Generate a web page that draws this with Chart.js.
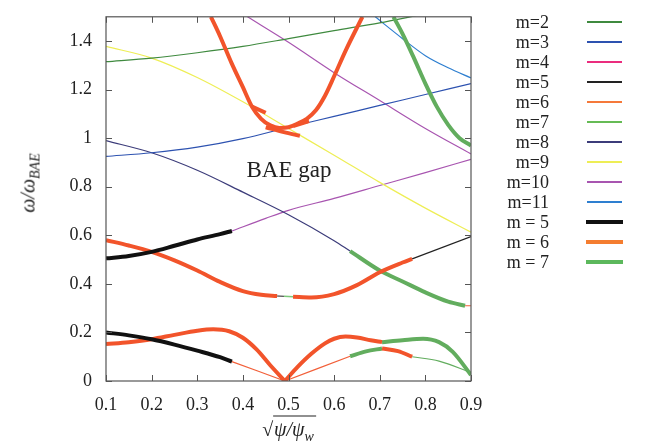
<!DOCTYPE html>
<html>
<head>
<meta charset="utf-8">
<script src="https://cdn.jsdelivr.net/npm/chart.js@4.4.1/dist/chart.umd.min.js"></script>
<style>
  body { margin: 0; background: #fff; }
  #wrap { position: relative; width: 651px; height: 444px; font-family: "Liberation Serif", "DejaVu Serif", serif; color: #222; }
  #c { position: absolute; left: 0; top: 0; }
  .lbl { position: absolute; font-size: 18px; line-height: 20px; text-align: right; white-space: nowrap; }
  .key { position: absolute; }
  #ytitle { position: absolute; left: 30px; top: 183px; transform: translate(-50%, -50%) rotate(-90deg); font-size: 20px; font-style: italic; white-space: nowrap; }
  #ytitle sub, #xtitle sub { font-size: 14px; }
  #xtitle { position: absolute; left: 289px; top: 431px; transform: translate(-50%, -50%); font-size: 20px; font-style: italic; white-space: nowrap; }
  #xtitle .rad { border-top: 1px solid #222; padding: 1px 2px 0 1px; }
  #gap { position: absolute; left: 289px; top: 170px; transform: translate(-50%, -50%); font-size: 23px; white-space: nowrap; }
</style>
</head>
<body>
<div id="wrap">
  <canvas id="c" width="651" height="444"></canvas>
  <div id="ytitle">ω/ω<sub>BAE</sub></div>
  <div id="xtitle"><span style="font-style:normal">√</span><span class="rad">ψ/ψ<sub>w</sub></span></div>
  <div id="gap">BAE gap</div>
  <div id="legend"></div>
</div>
<script>
// axes
const xTicks = [0.1, 0.2, 0.3, 0.4, 0.5, 0.6, 0.7, 0.8, 0.9];
const xTickLabels = ['0.1', '0.2', '0.3', '0.4', '0.5', '0.6', '0.7', '0.8', '0.9'];
const yTicks = [0, 0.2, 0.4, 0.6, 0.8, 1.0, 1.2, 1.4];
const yTickLabels = ['0', '0.2', '0.4', '0.6', '0.8', '1', '1.2', '1.4'];

// legend
const legendLabels = ['m=2', 'm=3', 'm=4', 'm=5', 'm=6', 'm=7', 'm=8', 'm=9', 'm=10', 'm=11', 'm = 5', 'm = 6', 'm = 7'];
const legendColors = ['#3f8a3f', '#2d52b0', '#ea2d7e', '#222222', '#f5793a', '#66bb55', '#3c3c7a', '#eeee55', '#a855b0', '#2e7fd0', '#111111', '#f47d30', '#5cb85c'];

// thin continuum branches (x = sqrt(psi/psi_w), y = omega/omega_BAE)
const m2 = [[0.1, 1.315], [0.2, 1.33], [0.3, 1.352], [0.4, 1.378], [0.5, 1.41], [0.6, 1.443], [0.7, 1.475], [0.78, 1.505]];
const m3 = [[0.1, 0.925], [0.2, 0.94], [0.3, 0.963], [0.4, 0.998], [0.5, 1.045], [0.6, 1.09], [0.7, 1.135], [0.8, 1.18], [0.9, 1.225]];
const m5a = [[0.475, 0.35], [0.49, 0.349]];
const m5b = [[0.771, 0.503], [0.9, 0.595]];
const m6a = [[0.376, 0.08], [0.492, 0]];
const m6b = [[0.492, 0], [0.635, 0.102]];
const m6c = [[0.887, 0.31], [0.9, 0.31]];
const m7a = [[0.49, 0.349], [0.51, 0.347]];
const m7b = [[0.771, 0.1], [0.83, 0.082], [0.9, 0.035]];
const m8 = [[0.1, 0.99], [0.2, 0.94], [0.3, 0.868], [0.4, 0.778], [0.5, 0.685], [0.6, 0.578], [0.635, 0.535]];
const m9 = [[0.1, 1.378], [0.2, 1.33], [0.3, 1.25], [0.4, 1.15], [0.5, 1.04], [0.6, 0.93], [0.7, 0.818], [0.8, 0.712], [0.9, 0.613]];
const m10a = [[0.41, 1.5], [0.5, 1.395], [0.6, 1.27], [0.7, 1.155], [0.8, 1.04], [0.9, 0.935]];
const m10b = [[0.376, 0.618], [0.45, 0.67], [0.5, 0.703], [0.6, 0.752], [0.7, 0.805], [0.8, 0.858], [0.9, 0.913]];
const m11 = [[0.69, 1.5], [0.75, 1.41], [0.8, 1.34], [0.85, 1.29], [0.9, 1.248]];

// thick dominant-harmonic branches
const t5a = [[0.1, 0.505], [0.15, 0.515], [0.2, 0.532], [0.25, 0.557], [0.3, 0.583], [0.35, 0.605], [0.376, 0.618]];
const t5b = [[0.1, 0.2], [0.15, 0.188], [0.2, 0.172], [0.25, 0.15], [0.3, 0.125], [0.35, 0.098], [0.376, 0.08]];
const t6a = [[0.1, 0.58], [0.15, 0.558], [0.2, 0.532], [0.25, 0.497], [0.3, 0.455], [0.35, 0.408], [0.4, 0.37], [0.44, 0.355], [0.475, 0.35]];
const t6b = [[0.51, 0.347], [0.55, 0.344], [0.6, 0.358], [0.65, 0.395], [0.7, 0.448], [0.75, 0.488], [0.771, 0.503]];
const t6c = [[0.1, 0.152], [0.15, 0.16], [0.2, 0.172], [0.25, 0.19], [0.3, 0.207], [0.335, 0.213], [0.37, 0.205], [0.4, 0.178], [0.43, 0.13], [0.46, 0.065], [0.492, 0]];
const t6d = [[0.492, 0], [0.52, 0.058], [0.55, 0.112], [0.58, 0.155], [0.6, 0.174], [0.625, 0.183], [0.65, 0.179], [0.68, 0.168], [0.705, 0.16]];
const t6e = [[0.705, 0.134], [0.74, 0.123], [0.771, 0.1]];
const t6f = [[0.33, 1.5], [0.35, 1.42], [0.375, 1.31], [0.4, 1.21], [0.42, 1.13], [0.44, 1.08], [0.46, 1.053], [0.48, 1.042], [0.5, 1.045], [0.52, 1.06], [0.54, 1.08], [0.56, 1.115], [0.58, 1.175], [0.6, 1.255], [0.625, 1.36], [0.662, 1.5]];
const t6g = [[0.45, 1.045], [0.49, 1.025], [0.525, 1.01]];
const t6h = [[0.42, 1.13], [0.45, 1.105]];
const t6i = [[0.51, 1.05], [0.545, 1.07]];
const t7a = [[0.635, 0.535], [0.7, 0.455], [0.75, 0.41], [0.8, 0.365], [0.85, 0.327], [0.887, 0.31]];
const t7b = [[0.73, 1.5], [0.75, 1.43], [0.775, 1.33], [0.8, 1.225], [0.825, 1.13], [0.85, 1.055], [0.875, 1.0], [0.9, 0.97]];
const t7c = [[0.705, 0.16], [0.75, 0.168], [0.795, 0.174], [0.83, 0.16], [0.86, 0.12], [0.9, 0.025]];
const t7d = [[0.635, 0.102], [0.67, 0.122], [0.705, 0.134]];

const RED = '#f2542b';
const GREEN = '#62ad5e';
const BLACK = '#111111';

function seg(pts, color, width, order) {
    return {
        data: pts.map(p => ({ x: p[0], y: p[1] })),
        borderColor: color,
        borderWidth: width,
        showLine: true,
        pointRadius: 0,
        cubicInterpolationMode: 'monotone',
        borderCapStyle: 'butt',
        order: order
    };
}

const datasets = [
    seg(m2, legendColors[0], 1.2, 2),
    seg(m3, legendColors[1], 1.2, 2),
    seg(m5a, legendColors[3], 1.2, 2),
    seg(m5b, legendColors[3], 1.2, 2),
    seg(m6a, '#f2603a', 1.2, 2),
    seg(m6b, '#f2603a', 1.2, 2),
    seg(m6c, '#f2603a', 1.2, 2),
    seg(m7a, '#7cc87a', 1.5, 2),
    seg(m7b, GREEN, 1.2, 2),
    seg(m8, legendColors[6], 1.2, 2),
    seg(m9, legendColors[7], 1.2, 2),
    seg(m10a, legendColors[8], 1.2, 2),
    seg(m10b, legendColors[8], 1.2, 2),
    seg(m11, legendColors[9], 1.2, 2),
    seg(t5a, BLACK, 4, 0),
    seg(t5b, BLACK, 4, 0),
    seg(t6a, RED, 4, 1),
    seg(t6b, RED, 4, 1),
    seg(t6c, RED, 4, 1),
    seg(t6d, RED, 4, 1),
    seg(t6e, RED, 4, 1),
    seg(t6f, RED, 4, 1),
    seg(t6g, RED, 4, 1),
    seg(t6h, RED, 4, 1),
    seg(t6i, RED, 4, 1),
    seg(t7a, GREEN, 4, 1),
    seg(t7b, GREEN, 4, 1),
    seg(t7c, GREEN, 4, 1),
    seg(t7d, GREEN, 4, 1)
];

// box frame with inward ticks on all sides
const frame = {
    id: 'frame',
    afterDraw(chart) {
        const { ctx, chartArea: a, scales } = chart;
        ctx.save();
        ctx.strokeStyle = '#555';
        ctx.lineWidth = 1.2;
        ctx.strokeRect(a.left, a.top, a.right - a.left, a.bottom - a.top);
        ctx.lineWidth = 1;
        ctx.beginPath();
        xTicks.forEach(v => {
            const px = Math.round(scales.x.getPixelForValue(v)) + 0.5;
            ctx.moveTo(px, a.bottom); ctx.lineTo(px, a.bottom - 6);
            ctx.moveTo(px, a.top); ctx.lineTo(px, a.top + 6);
        });
        yTicks.forEach(v => {
            const py = Math.round(scales.y.getPixelForValue(v)) + 0.5;
            ctx.moveTo(a.left, py); ctx.lineTo(a.left + 6, py);
            ctx.moveTo(a.right, py); ctx.lineTo(a.right - 6, py);
        });
        ctx.stroke();
        ctx.restore();
    }
};

const tickFont = { family: '"Liberation Serif", serif', size: 18 };

new Chart(document.getElementById('c'), {
    type: 'scatter',
    data: { datasets: datasets },
    options: {
        responsive: false,
        animation: false,
        layout: { padding: { left: 0, right: 180, top: 11, bottom: 0 } },
        plugins: { legend: { display: false }, tooltip: { enabled: false } },
        scales: {
            x: {
                type: 'linear', min: 0.1, max: 0.9,
                grid: { display: false }, border: { display: false },
                afterBuildTicks: s => { s.ticks = xTicks.map(v => ({ value: v })); },
                afterFit: s => { s.height = 63; },
                ticks: { font: tickFont, color: '#222', padding: 5, maxRotation: 0, callback: (v, i) => xTickLabels[i] }
            },
            y: {
                type: 'linear', min: 0, max: 1.5,
                grid: { display: false }, border: { display: false },
                afterBuildTicks: s => { s.ticks = yTicks.map(v => ({ value: v })); },
                afterFit: s => { s.width = 106; },
                ticks: { font: tickFont, color: '#222', padding: 6, callback: (v, i) => yTickLabels[i] }
            }
        }
    },
    plugins: [frame]
});

// legend: label on the left, line sample on the right
const legend = document.getElementById('legend');
legendLabels.forEach((t, i) => {
    const cy = 21.7 + 20 * i;
    const thick = i >= 10;
    const lbl = document.createElement('div');
    lbl.className = 'lbl';
    lbl.style.right = '102px';
    lbl.style.top = Math.round(cy - 10) + 'px';
    lbl.textContent = t;
    legend.appendChild(lbl);
    const key = document.createElement('div');
    key.className = 'key';
    const h = thick ? 4 : 2;
    key.style.left = (thick ? 586 : 587) + 'px';
    key.style.width = (thick ? 37 : 35) + 'px';
    key.style.top = Math.round(cy - h / 2) + 'px';
    key.style.height = h + 'px';
    key.style.background = legendColors[i];
    legend.appendChild(key);
});
</script>
</body>
</html>
